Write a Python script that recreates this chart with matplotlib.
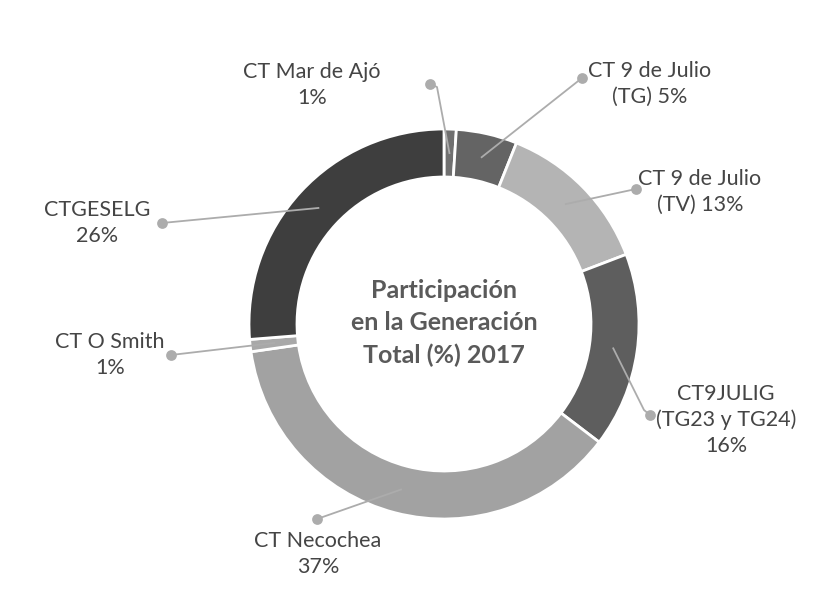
import matplotlib
matplotlib.use("Agg")
import matplotlib.pyplot as plt
import numpy as np

plt.rcParams['font.family'] = ['Lato', 'DejaVu Sans']

categories = ["CT Mar de Ajó", "CT 9 de Julio\n(TG)", "CT 9 de Julio\n(TV)", "CT9JULIG\n(TG23 y TG24)",
              "CT Necochea", "CT O Smith", "CTGESELG"]
values = [1, 5, 13, 16, 37, 1, 26]
colors = ["#707070", "#646464", "#b4b4b4", "#5e5e5e", "#a2a2a2", "#a8a8a8", "#3e3e3e"]
label_texts = ["CT Mar de Ajó\n1%", "CT 9 de Julio\n(TG) 5%", "CT 9 de Julio\n(TV) 13%",
               "CT9JULIG\n(TG23 y TG24)\n16%", "CT Necochea\n37%", "CT O Smith\n1%", "CTGESELG\n26%"]
center_title = "Participación\nen la Generación\nTotal (%) 2017"

W, H = 830, 599
fig = plt.figure(figsize=(W / 100, H / 100), dpi=100)
ax = fig.add_axes([0, 0, 1, 1])

cx, cy = 444, H - 324
R = 195
width = 48
wedges, _ = ax.pie(values, colors=colors, startangle=90, counterclock=False,
                   radius=R, center=(cx, cy), frame=True,
                   wedgeprops=dict(width=width, edgecolor='white', linewidth=2))
ax.set_xlim(0, W)
ax.set_ylim(0, H)
ax.set_aspect('equal')
ax.axis('off')

# label layout: dot positions, text centres, optional bend points (pixel, top-origin)
dots = [(430, 84), (582, 78), (636, 189), (650, 415), (317, 519), (171, 355), (162, 223)]
texts = [(312, 85), (650, 84), (700, 192), (726, 420), (318, 554), (110, 355), (97, 223)]
bends = [(437, 87), None, None, (644, 410), None, None, None]

rmid = R - width / 2
for i, w in enumerate(wedges):
    ang = np.deg2rad((w.theta1 + w.theta2) / 2)
    sx = cx + rmid * np.cos(ang)
    sy = cy + rmid * np.sin(ang)
    dx, dy = dots[i]
    xs = [sx]
    ys = [sy]
    if bends[i] is not None:
        xs.append(bends[i][0])
        ys.append(H - bends[i][1])
    xs.append(dx)
    ys.append(H - dy)
    ax.plot(xs, ys, color="#acacac", lw=1.3, zorder=3)
    ax.scatter([dx], [H - dy], s=60, color="#acacac", zorder=4, linewidths=0)
    tx, ty = texts[i]
    ax.text(tx, H - ty, label_texts[i], ha='center', va='center', fontsize=15.5,
            color="#454545", linespacing=1.32)

ax.text(cx, cy + 1, center_title, ha='center', va='center', fontsize=18, fontweight='bold',
        color="#5a5a5a", linespacing=1.5)

fig.savefig("out.png", dpi=100, facecolor='white')
